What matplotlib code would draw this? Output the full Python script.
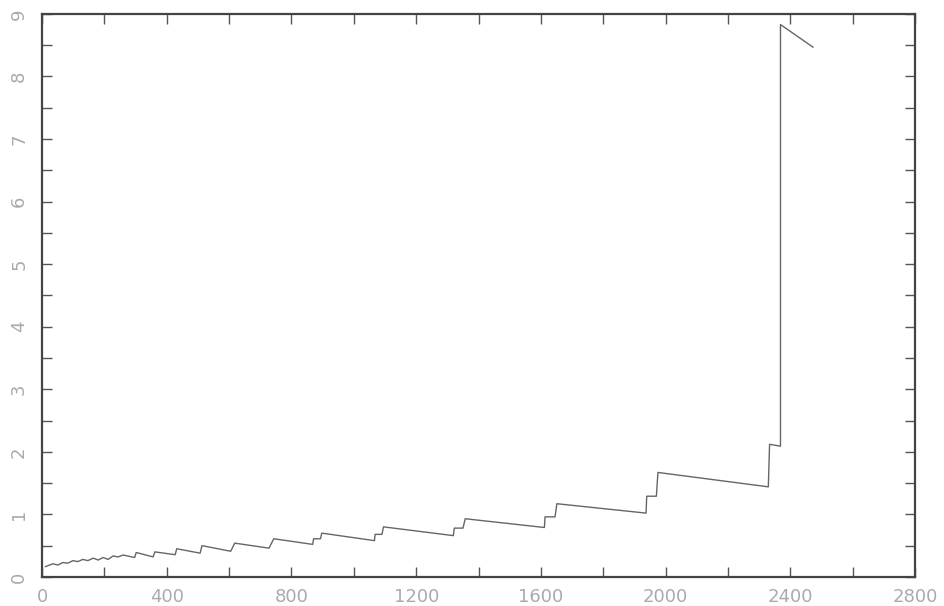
import numpy as np
from matplotlib import pyplot as plt
from matplotlib.ticker import MultipleLocator

# vertices of the trace
x = [11, 35, 51, 67, 83, 99, 115, 131, 147, 164, 180, 196, 212, 228, 244, 260,
     297, 302, 356, 362, 427, 432, 507, 513, 605, 618, 728, 743,
     868, 871, 893, 897, 1066, 1068, 1090, 1095, 1319, 1322, 1350, 1357,
     1611, 1613, 1645, 1651, 1937, 1939, 1970, 1975, 2329, 2333, 2368, 2368, 2472]
y = [0.165, 0.21, 0.19, 0.23, 0.22, 0.26, 0.245, 0.28, 0.26, 0.30, 0.27, 0.31, 0.28, 0.335, 0.32, 0.35,
     0.31, 0.39, 0.32, 0.40, 0.355, 0.45, 0.38, 0.50, 0.41, 0.54, 0.46, 0.61,
     0.52, 0.61, 0.61, 0.70, 0.58, 0.68, 0.68, 0.80, 0.66, 0.78, 0.78, 0.93,
     0.79, 0.96, 0.96, 1.17, 1.02, 1.29, 1.29, 1.67, 1.44, 2.12, 2.09, 8.83, 8.47]

xlim = (0, 2800)
ylim = (0, 9)

fig = plt.figure(figsize=(9.44, 6.06), dpi=100)
ax = fig.add_axes([0.0445, 0.048, 0.925, 0.929])

ax.plot(x, y, color="#666666", lw=1.0)

ax.set_xlim(*xlim)
ax.set_ylim(*ylim)
ax.xaxis.set_major_locator(MultipleLocator(400))
ax.xaxis.set_minor_locator(MultipleLocator(200))
ax.yaxis.set_major_locator(MultipleLocator(1))
ax.yaxis.set_minor_locator(MultipleLocator(0.5))

for s in ax.spines.values():
    s.set_color("#444444")
    s.set_linewidth(1.6)

ax.tick_params(which="both", direction="in", top=True, right=True,
               length=7, width=1, color="#555555")
ax.tick_params(axis="x", labelsize=13, labelcolor="#aaaaaa", pad=8)
ax.tick_params(axis="y", labelsize=13, labelcolor="#aaaaaa", pad=10, labelrotation=90)
for lab in ax.get_yticklabels():
    lab.set_va("center")

fig.savefig("out.png", dpi=100)
